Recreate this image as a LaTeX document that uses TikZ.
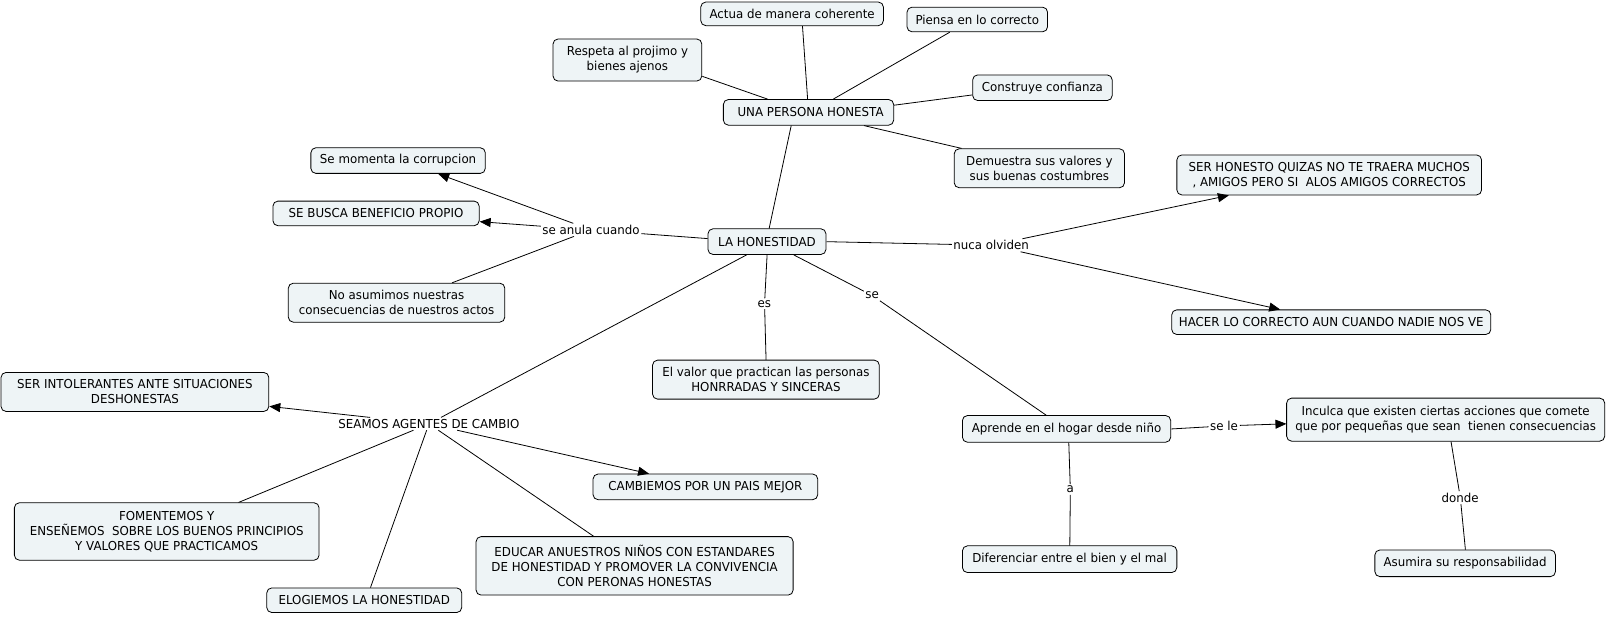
\documentclass[tikz,border=0pt]{standalone}
\usepackage{fontspec}
\setmainfont{DejaVu Sans}[FakeStretch=0.96]
\usetikzlibrary{arrows.meta}
\definecolor{boxfill}{RGB}{238,244,246}
\begin{document}
\begin{tikzpicture}[x=1pt,y=-1pt, scale=1.026, transform shape,
  box/.style={draw=black, line width=0.8pt, rounded corners=5pt, fill=boxfill, align=center, inner sep=2pt, font=\fontsize{12}{14.5}\selectfont},
  lbl/.style={inner sep=1.5pt, font=\fontsize{12}{14.5}\selectfont},
  link/.style={draw=black, line width=0.8pt},
  arr/.style={link, -{Triangle[length=11pt,width=9pt]}}]
\fill[white] (0,0) rectangle (1568.2,600.4);
\useasboundingbox (0,0) rectangle (1568.2,600.4);
% boxes
\node[box, minimum width=178pt, minimum height=23pt] (actua) at (772,13.5) {Actua de manera coherente};
\node[box, minimum width=137pt, minimum height=24pt] (piensa) at (952.5,19) {Piensa en lo correcto};
\node[box, minimum width=145pt, minimum height=41pt] (respeta) at (611.5,58.5) {Respeta al projimo y\\ bienes ajenos};
\node[box, minimum width=136pt, minimum height=25pt] (construye) at (1016,85.5) {Construye confianza};
\node[box, minimum width=166pt, minimum height=25pt] (una) at (788,109.5) {\hspace{4pt}UNA PERSONA HONESTA};
\node[box, minimum width=166pt, minimum height=38pt] (demuestra) at (1013,164) {Demuestra sus valores y\\ sus buenas costumbres};
\node[box, minimum width=170pt, minimum height=25pt] (corrup) at (388,156.5) {Se momenta la corrupcion};
\node[box, minimum width=201pt, minimum height=24pt] (busca) at (366.5,208) {SE BUSCA BENEFICIO PROPIO};
\node[box, minimum width=211pt, minimum height=38pt] (noasum) at (386.5,295) {No asumimos nuestras\\ consecuencias de nuestros actos};
\node[box, minimum width=115pt, minimum height=25pt] (lahon) at (747.5,235.5) {LA HONESTIDAD};
\node[box, minimum width=297pt, minimum height=39pt] (serhon) at (1295.5,170.5) {SER HONESTO QUIZAS NO TE TRAERA MUCHOS\\ , AMIGOS PERO SI\ \ ALOS AMIGOS CORRECTOS};
\node[box, minimum width=311pt, minimum height=24pt] (hacer) at (1297.5,314) {HACER LO CORRECTO AUN CUANDO NADIE NOS VE};
\node[box, minimum width=221pt, minimum height=38pt] (valor) at (746.5,370) {El valor que practican las personas\\ HONRRADAS Y SINCERAS};
\node[box, minimum width=261pt, minimum height=38pt] (intol) at (131.5,382) {SER INTOLERANTES ANTE SITUACIONES\\ DESHONESTAS};
\node[box, minimum width=219pt, minimum height=25pt] (cambiemos) at (687.5,474.5) {CAMBIEMOS POR UN PAIS MEJOR};
\node[box, minimum width=297pt, minimum height=56pt] (foment) at (162.5,518) {FOMENTEMOS Y\\ ENSEÑEMOS\ \ SOBRE LOS BUENOS PRINCIPIOS\\ Y VALORES QUE PRACTICAMOS};
\node[box, minimum width=309pt, minimum height=57pt] (educar) at (618.5,551.5) {EDUCAR ANUESTROS NIÑOS CON ESTANDARES\\ DE HONESTIDAD Y PROMOVER LA CONVIVENCIA\\ CON PERONAS HONESTAS};
\node[box, minimum width=190pt, minimum height=24pt] (elog) at (355,585) {ELOGIEMOS LA HONESTIDAD};
\node[box, minimum width=203pt, minimum height=26pt] (aprende) at (1039.5,418) {Aprende en el hogar desde niño};
\node[box, minimum width=310pt, minimum height=42pt] (inculca) at (1409,409) {Inculca que existen ciertas acciones que comete\\ que por pequeñas que sean\ \ tienen consecuencias};
\node[box, minimum width=209pt, minimum height=26pt] (difer) at (1042.5,545) {Diferenciar entre el bien y el mal};
\node[box, minimum width=176pt, minimum height=26pt] (asumira) at (1428,549) {Asumira su responsabilidad};
% labels
\node[lbl] (seamos) at (418,413) {SEAMOS AGENTES DE CAMBIO};
\node[lbl] (anula) at (576,224) {se anula cuando};
\node[lbl] (nuca) at (966,239) {nuca olviden};
\node[lbl] (es) at (745,296) {es};
\node[lbl] (se) at (850,288) {se};
\node[lbl] (sele) at (1193,415) {se le};
\node[lbl] (a) at (1043,477) {a};
\node[lbl] (donde) at (1423,485) {donde};
% connectors
\draw[link] ([xshift=-1pt]una.north) -- ([xshift=10pt]actua.south);
\draw[link] ([xshift=24pt]una.north) -- ([xshift=-27pt]piensa.south);
\draw[link] ([xshift=-40pt]una.north) -- ([yshift=5pt]respeta.south east);
\draw[link] ([yshift=7pt]una.east) -- ([yshift=-7pt]construye.west);
\draw[link] ([xshift=54pt]una.south) -- ([xshift=-76pt]demuestra.north);
\draw[link] ([xshift=-17pt]una.south) -- ([xshift=2pt]lahon.north);
\draw[link] ([yshift=3pt]lahon.west) -- (anula);
\draw[arr] (anula) -- ([xshift=39pt]corrup.south);
\draw[arr] (anula) -- ([yshift=-8pt]busca.east);
\draw[link] (anula) -- ([xshift=54pt]noasum.north);
\draw[link] (lahon.east) -- (nuca);
\draw[arr] (nuca) -- ([xshift=-98pt]serhon.south);
\draw[arr] (nuca) -- ([xshift=-50pt]hacer.north);
\draw[link] (lahon.south) -- (es);
\draw[link] (es) -- (valor.north);
\draw[link] ([xshift=26pt]lahon.south) -- (se);
\draw[link] (se) -- ([xshift=-20pt]aprende.north);
\draw[link] ([xshift=-20pt]lahon.south) -- (seamos);
\draw[arr] (seamos) -- ([yshift=-14pt]intol.east);
\draw[arr] (seamos) -- ([xshift=-55pt]cambiemos.north);
\draw[link] (seamos) -- ([xshift=70pt]foment.north);
\draw[link] (seamos) -- ([xshift=6pt]elog.north);
\draw[link] (seamos) -- ([xshift=-40pt]educar.north);
\draw[link] (aprende.east) -- (sele);
\draw[arr] (sele) -- ([yshift=-4pt]inculca.west);
\draw[link] ([xshift=2pt]aprende.south) -- (a);
\draw[link] (a) -- (difer.north);
\draw[link] ([xshift=5pt]inculca.south) -- (donde);
\draw[link] (donde) -- (asumira.north);
\end{tikzpicture}
\end{document}
